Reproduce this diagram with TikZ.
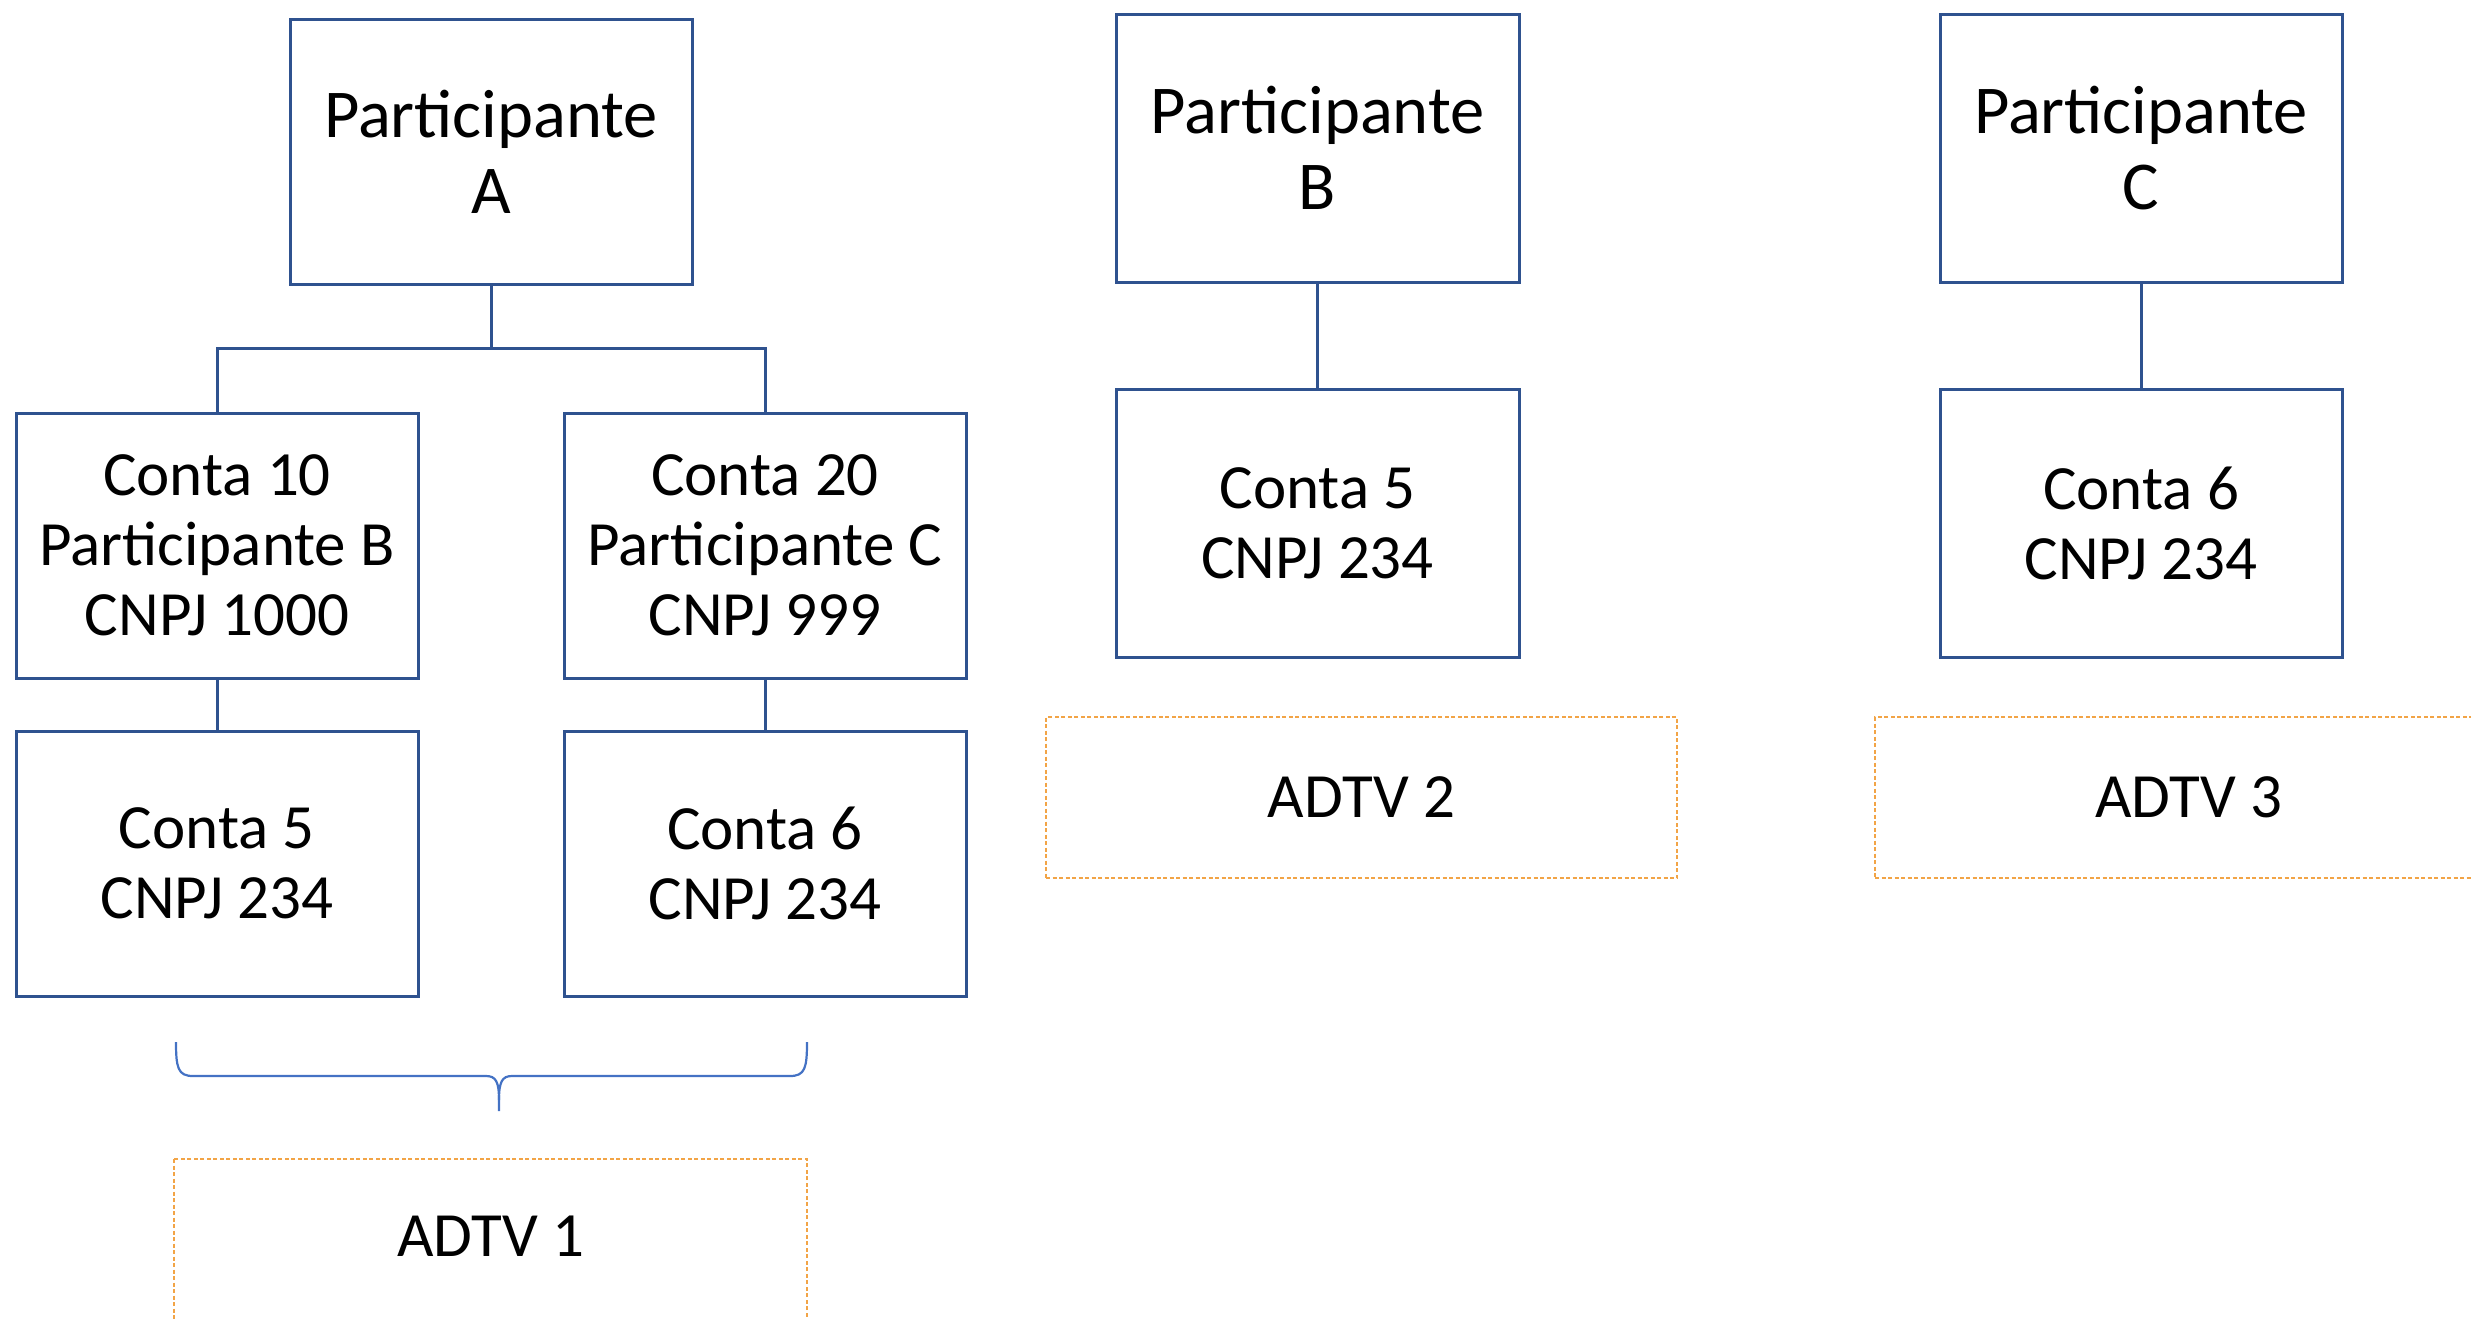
\documentclass[tikz,border=0pt]{standalone}
\usepackage{fontspec}
\setmainfont{Carlito}
\definecolor{boxblue}{HTML}{2F528F}
\definecolor{braceblue}{HTML}{4472C4}
\definecolor{adtvorange}{HTML}{F2A446}
\begin{document}
\begin{tikzpicture}[x=1pt,y=-1pt,
  pbox/.style={draw=boxblue,line width=3pt,rectangle,inner sep=0pt,align=center,
    minimum width=402pt,font=\fontsize{68.5pt}{76pt}\selectfont},
  cbox/.style={draw=boxblue,line width=3pt,rectangle,inner sep=0pt,align=center,
    minimum width=402pt,minimum height=265pt,font=\fontsize{63pt}{70pt}\selectfont},
  adtvline/.style={draw=adtvorange,line width=2pt,dash pattern=on 4pt off 2.5pt},
  abox/.style={adtvline,rectangle,inner sep=0pt,
    align=center,minimum width=631pt,font=\fontsize{63pt}{70pt}\selectfont},
  link/.style={draw=boxblue,line width=3pt},
  bracestyle/.style={draw=braceblue,line width=2.2pt}]
\clip (0,0) rectangle (2471,1318);
\useasboundingbox (0,0) rectangle (2471,1318);

% Participante A tree
\node[pbox,minimum height=265pt] (A) at (491,151.5) {Participante\\A};
\node[cbox] (C10) at (217,545.5) {Conta 10\\Participante B\\CNPJ 1000};
\node[cbox] (C20) at (765,545.5) {Conta 20\\Participante C\\CNPJ 999};
\node[cbox] (C5L) at (217,863.5) {Conta 5\\CNPJ 234};
\node[cbox] (C6L) at (765,863.5) {Conta 6\\CNPJ 234};
\coordinate (bus) at (491,348);
\draw[link] (A.south) -- (bus) -| (C10.north);
\draw[link] (bus) -| (C20.north);
\draw[link] (C10.south) -- (C5L.north);
\draw[link] (C20.south) -- (C6L.north);

% brace
\coordinate (brL) at (176,1042);
\coordinate (brR) at (807,1042);
\coordinate (brT) at (499,1111);
\draw[bracestyle] (brL) .. controls (176,1068) and (178,1076) .. (193,1076)
  -- (486,1076) .. controls (496,1076) and (499,1082) .. (499,1100) -- (brT);
\draw[bracestyle] (brR) .. controls (807,1068) and (805,1076) .. (790,1076)
  -- (512,1076) .. controls (502,1076) and (499,1082) .. (499,1100);

% ADTV 1 (box runs past the lower edge)
\node[abox,draw=none,minimum width=632pt,minimum height=152pt] (AD1) at (491,1236) {ADTV 1};
\draw[adtvline] (AD1.north west) rectangle (807,1360);

% Participante B
\node[pbox,minimum height=268pt,minimum width=403pt] (B) at (1317.5,148) {Participante\\B};
\node[cbox,minimum width=403pt,minimum height=268pt] (C5B) at (1317.5,523) {Conta 5\\CNPJ 234};
\draw[link] (B.south) -- (C5B.north);
\node[abox,minimum height=161pt] (AD2) at (1361.5,797.5) {ADTV 2};

% Participante C
\node[pbox,minimum height=268pt] (C) at (2141,148) {Participante\\C};
\node[cbox,minimum height=268pt] (C6C) at (2141,523) {Conta 6\\CNPJ 234};
\draw[link] (C.south) -- (C6C.north);
\node[abox,minimum width=628pt,minimum height=161pt] (AD3) at (2189,797.5) {ADTV 3};
\end{tikzpicture}
\end{document}
